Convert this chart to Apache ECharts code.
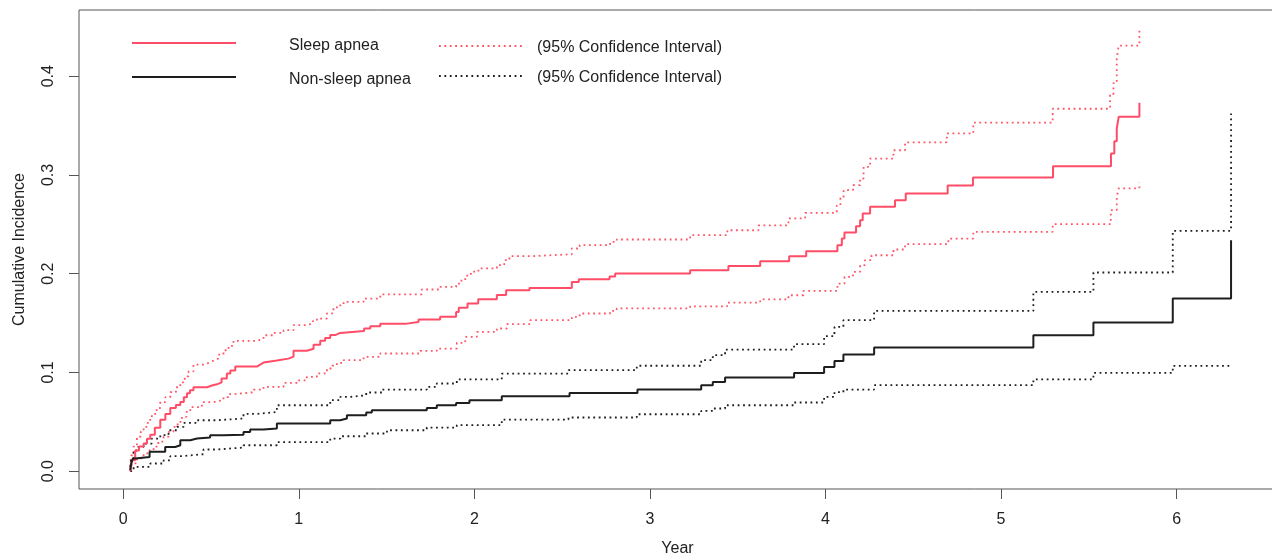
<!DOCTYPE html>
<html>
<head>
<meta charset="utf-8">
<script src="https://cdn.jsdelivr.net/npm/echarts@6/dist/echarts.min.js"></script>
<style>
  html, body { margin: 0; padding: 0; background: #fff; }
  #chart { width: 1272px; height: 556px; }
</style>
</head>
<body>
<div id="chart"></div>
<script>
// x ticks / y ticks
var xTicks = [0, 1, 2, 3, 4, 5, 6];
var yTicks = [0, 0.1, 0.2, 0.3, 0.4];

// cumulative incidence, [year, value] at each jump (step curves)
var sleepEst = [[0.04,0.000],[0.045,0.005],[0.05,0.011],[0.068,0.021],[0.09,0.025],[0.116,0.028],[0.135,0.033],[0.154,0.037],[0.18,0.044],[0.211,0.052],[0.24,0.058],[0.268,0.064],[0.30,0.067],[0.325,0.070],[0.345,0.075],[0.363,0.079],[0.38,0.082],[0.40,0.085],[0.477,0.087],[0.51,0.088],[0.534,0.090],[0.56,0.094],[0.59,0.099],[0.61,0.102],[0.638,0.106],[0.761,0.108],[0.78,0.110],[0.799,0.112],[0.875,0.114],[0.941,0.116],[0.97,0.122],[1.046,0.124],[1.084,0.128],[1.122,0.132],[1.15,0.135],[1.179,0.138],[1.21,0.140],[1.236,0.142],[1.372,0.1445],[1.407,0.1468],[1.464,0.1492],[1.606,0.1512],[1.682,0.1536],[1.805,0.1563],[1.896,0.1613],[1.911,0.1654],[1.961,0.1698],[2.022,0.1742],[2.128,0.1785],[2.181,0.1833],[2.314,0.1856],[2.555,0.1917],[2.595,0.1944],[2.770,0.1972],[2.802,0.2003],[3.229,0.2035],[3.447,0.2079],[3.628,0.2127],[3.793,0.2177],[3.890,0.2228],[4.068,0.2289],[4.093,0.2356],[4.108,0.2417],[4.174,0.2481],[4.197,0.2542],[4.212,0.261],[4.254,0.2677],[4.396,0.2744],[4.457,0.2812],[4.696,0.2893],[4.84,0.2974],[5.296,0.3089],[5.626,0.3217],[5.645,0.334],[5.659,0.347],[5.670,0.3588],[5.788,0.373]];
var sleepUpper = [[0.04,0.005],[0.044,0.016],[0.059,0.025],[0.078,0.035],[0.10,0.040],[0.116,0.045],[0.14,0.052],[0.163,0.058],[0.19,0.064],[0.211,0.070],[0.24,0.075],[0.268,0.080],[0.30,0.085],[0.325,0.090],[0.35,0.096],[0.372,0.101],[0.40,0.108],[0.467,0.110],[0.49,0.112],[0.514,0.114],[0.54,0.118],[0.571,0.1225],[0.60,0.127],[0.628,0.132],[0.761,0.134],[0.799,0.1377],[0.86,0.140],[0.913,0.1428],[0.97,0.148],[1.046,0.1495],[1.08,0.152],[1.103,0.1546],[1.16,0.1597],[1.19,0.164],[1.217,0.168],[1.255,0.1715],[1.369,0.1748],[1.464,0.179],[1.70,0.184],[1.805,0.1866],[1.896,0.190],[1.919,0.193],[1.948,0.198],[1.98,0.202],[2.023,0.2053],[2.128,0.2086],[2.17,0.2137],[2.20,0.2177],[2.318,0.2197],[2.555,0.2255],[2.60,0.2289],[2.773,0.2322],[2.811,0.2346],[3.229,0.239],[3.441,0.244],[3.618,0.249],[3.789,0.256],[3.884,0.2616],[4.064,0.269],[4.085,0.277],[4.103,0.2846],[4.157,0.2896],[4.197,0.2964],[4.217,0.3082],[4.254,0.3166],[4.387,0.325],[4.453,0.333],[4.691,0.342],[4.842,0.353],[5.294,0.367],[5.621,0.381],[5.640,0.393],[5.659,0.418],[5.670,0.431],[5.788,0.448]];
var sleepLower = [[0.04,0.000],[0.049,0.008],[0.078,0.013],[0.116,0.018],[0.145,0.021],[0.173,0.025],[0.20,0.030],[0.23,0.035],[0.26,0.040],[0.286,0.045],[0.31,0.050],[0.334,0.055],[0.36,0.060],[0.382,0.065],[0.448,0.070],[0.514,0.072],[0.571,0.075],[0.60,0.078],[0.628,0.080],[0.742,0.0827],[0.799,0.0854],[0.913,0.0894],[0.989,0.092],[1.046,0.0955],[1.103,0.099],[1.16,0.104],[1.19,0.107],[1.217,0.1097],[1.255,0.1124],[1.369,0.1157],[1.464,0.1192],[1.691,0.1218],[1.786,0.1242],[1.90,0.130],[1.948,0.136],[2.014,0.141],[2.128,0.1445],[2.185,0.1489],[2.318,0.1529],[2.555,0.1563],[2.60,0.1597],[2.773,0.1623],[2.811,0.1648],[3.229,0.167],[3.44,0.1708],[3.628,0.1739],[3.789,0.1782],[3.874,0.1826],[4.068,0.190],[4.108,0.1968],[4.157,0.2018],[4.197,0.2086],[4.225,0.2137],[4.262,0.2187],[4.387,0.2245],[4.453,0.2299],[4.70,0.2356],[4.842,0.2424],[5.294,0.2501],[5.625,0.2643],[5.659,0.2778],[5.670,0.2863],[5.788,0.292]];

var nonEst = [[0.04,0.001],[0.045,0.008],[0.055,0.013],[0.068,0.0145],[0.15,0.0196],[0.239,0.0246],[0.296,0.0263],[0.325,0.0314],[0.382,0.0331],[0.42,0.0341],[0.495,0.0365],[0.571,0.037],[0.685,0.0398],[0.723,0.0422],[0.799,0.0432],[0.875,0.0483],[1.179,0.0516],[1.236,0.0534],[1.274,0.0567],[1.384,0.0594],[1.416,0.0618],[1.729,0.0641],[1.786,0.0668],[1.896,0.0692],[1.972,0.0719],[2.156,0.0759],[2.542,0.0793],[2.929,0.0827],[3.292,0.0871],[3.358,0.0904],[3.428,0.0949],[3.821,0.0995],[3.992,0.1056],[4.051,0.1117],[4.102,0.1182],[4.277,0.1253],[5.184,0.1377],[5.526,0.1506],[5.978,0.1749],[6.31,0.2339]];
var nonUpper = [[0.04,0.004],[0.044,0.011],[0.059,0.021],[0.078,0.0246],[0.116,0.028],[0.163,0.0331],[0.211,0.0365],[0.258,0.0415],[0.306,0.0449],[0.344,0.049],[0.42,0.0516],[0.534,0.0534],[0.685,0.058],[0.761,0.060],[0.875,0.0668],[1.179,0.072],[1.236,0.0752],[1.293,0.077],[1.384,0.0797],[1.473,0.0827],[1.729,0.0854],[1.786,0.0888],[1.90,0.0929],[2.156,0.0989],[2.536,0.1023],[2.925,0.1068],[3.292,0.1124],[3.358,0.1175],[3.428,0.1232],[3.821,0.1286],[3.992,0.1367],[4.051,0.1461],[4.102,0.1529],[4.277,0.1623],[5.184,0.1816],[5.526,0.2012],[5.978,0.2433],[6.31,0.3622]];
var nonLower = [[0.04,0.000],[0.059,0.0044],[0.154,0.0078],[0.23,0.011],[0.268,0.0152],[0.325,0.0172],[0.457,0.022],[0.534,0.024],[0.685,0.0263],[0.875,0.0294],[1.179,0.033],[1.236,0.0354],[1.384,0.0382],[1.502,0.0415],[1.729,0.0442],[1.90,0.0466],[2.156,0.0523],[2.536,0.0544],[2.925,0.0577],[3.292,0.0611],[3.358,0.0635],[3.428,0.0668],[3.821,0.0696],[3.992,0.0752],[4.051,0.080],[4.102,0.0827],[4.277,0.0871],[5.184,0.0929],[5.526,0.0995],[5.978,0.1067],[6.30,0.1067]];

var FONT = 'Liberation Sans, Arial, sans-serif';
var RED = '#ff4d68';
var RED_DOT = '#ff5468';
var BLACK = '#1e1e1e';
var DOTS = [1.8, 3.6];

var chart = echarts.init(document.getElementById('chart'));

// 一条阶梯线
function stepLine(name, data, color, width, dotted){
    return {
        name: name,
        type: 'line',
        step: 'end',
        data: data,
        showSymbol: false,
        silent: true,
        lineStyle: { color: color, width: width, type: dotted ? DOTS : 'solid' },
        z: dotted ? 2 : 3
    };
}

// legend drawn by hand (R style)
var legendItems = [
    { type: 'line', shape: { x1: 132, y1: 43, x2: 236, y2: 43 }, style: { stroke: RED, lineWidth: 2 } },
    { type: 'line', shape: { x1: 132, y1: 77, x2: 236, y2: 77 }, style: { stroke: BLACK, lineWidth: 2 } },
    { type: 'line', shape: { x1: 439, y1: 46, x2: 523, y2: 46 }, style: { stroke: RED_DOT, lineWidth: 1.8, lineDash: DOTS } },
    { type: 'line', shape: { x1: 439, y1: 76, x2: 523, y2: 76 }, style: { stroke: BLACK, lineWidth: 1.8, lineDash: DOTS } },
    { type: 'text', left: 289, top: 38, style: { text: 'Sleep apnea', fill: '#222', font: '16px ' + FONT } },
    { type: 'text', left: 289, top: 72, style: { text: 'Non-sleep apnea', fill: '#222', font: '16px ' + FONT } },
    { type: 'text', left: 537, top: 40, style: { text: '(95% Confidence Interval)', fill: '#222', font: '16px ' + FONT } },
    { type: 'text', left: 537, top: 70, style: { text: '(95% Confidence Interval)', fill: '#222', font: '16px ' + FONT } }
];

var option = {
    animation: false,
    backgroundColor: '#fff',
    textStyle: { fontFamily: FONT },
    grid: {
        // right edge of the box falls just outside the picture, as in the original
        left: 79, top: 10, width: 1197, height: 479,
        outerBoundsMode: 'none',
        show: true, borderColor: '#555', borderWidth: 1, backgroundColor: 'transparent'
    },
    xAxis: {
        type: 'value',
        min: -0.252, max: 6.566,
        name: 'Year',
        nameLocation: 'middle',
        nameGap: 52,
        nameTextStyle: { fontSize: 16, color: '#222', fontFamily: FONT },
        axisLine: { show: false, onZero: false },
        splitLine: { show: false },
        axisTick: { show: true, length: 10, customValues: xTicks, lineStyle: { color: '#555' } },
        axisLabel: { customValues: xTicks, fontSize: 16, color: '#222', margin: 23, fontFamily: FONT }
    },
    yAxis: {
        type: 'value',
        min: -0.018, max: 0.467,
        name: 'Cumulative Incidence',
        nameLocation: 'middle',
        nameGap: 51,
        nameRotate: 90,
        nameTextStyle: { fontSize: 16, color: '#222', fontFamily: FONT },
        axisLine: { show: false, onZero: false },
        splitLine: { show: false },
        axisTick: { show: true, length: 10, customValues: yTicks, lineStyle: { color: '#555' } },
        axisLabel: {
            customValues: yTicks, rotate: 90, fontSize: 16, color: '#222', margin: 22, fontFamily: FONT,
            formatter: function(v){ return v.toFixed(1); }
        }
    },
    graphic: legendItems,
    series: [
        stepLine('Sleep apnea upper', sleepUpper, RED_DOT, 1.8, true),
        stepLine('Sleep apnea lower', sleepLower, RED_DOT, 1.8, true),
        stepLine('Non-sleep apnea upper', nonUpper, BLACK, 1.8, true),
        stepLine('Non-sleep apnea lower', nonLower, BLACK, 1.8, true),
        stepLine('Sleep apnea', sleepEst, RED, 2),
        stepLine('Non-sleep apnea', nonEst, BLACK, 2)
    ]
};

chart.setOption(option);
</script>
</body>
</html>
